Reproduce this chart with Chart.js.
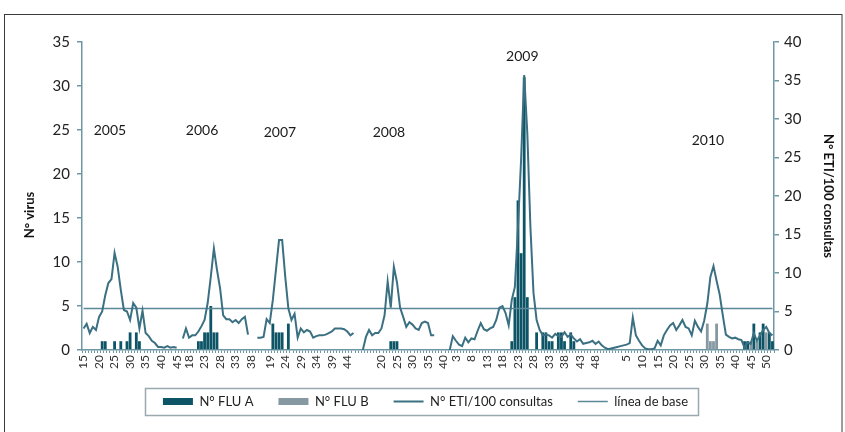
<!DOCTYPE html>
<html>
<head>
<meta charset="utf-8">
<script src="https://cdn.jsdelivr.net/npm/chart.js@4.4.0/dist/chart.umd.min.js"></script>
<style>
  html, body { margin: 0; padding: 0; background: #fff; }
</style>
</head>
<body>
<canvas id="chart" width="845" height="432"></canvas>
<script>
/* Temporadas y semanas que cubre cada una */
const seasons = [2005, 2006, 2007, 2008, 2009, 2010];
const firstWeek = [15, 16, 15, 14, 1, 1];
const lastWeek = [46, 39, 48, 41, 53, 52];

/* Semanas con etiqueta en el eje x */
const ticks2005 = [15, 20, 25, 30, 35, 40, 45];
const ticks2006 = [18, 23, 28, 33, 38];
const ticks2007 = [19, 24, 29, 34, 39, 44];
const ticks2008 = [20, 25, 30, 35, 40];
const ticks2009 = [3, 8, 13, 18, 23, 28, 33, 38, 43, 48];
const ticks2010 = [5, 10, 15, 20, 25, 30, 35, 40, 45, 50];

/* N° ETI/100 consultas (desde la primera semana de la temporada) */
const eti2005 = [2.8, 3.4, 2.2, 3.0, 2.6, 4.3, 5.0, 7.1, 8.7, 9.2, 12.6, 10.8, 7.8, 5.2, 5.0, 3.9,
  6.1, 5.5, 2.8, 5.1, 2.2, 1.8, 1.2, 0.9, 0.4, 0.4, 0.3, 0.5, 0.3, 0.4, 0.3];
const eti2006 = [1.5, 2.8, 1.6, 1.9, 1.9, 2.4, 3.1, 3.9, 6.1, 9.5, 13.2, 10.4, 8.0, 4.5, 4.0, 4.0,
  3.6, 3.9, 3.5, 4.0, 4.3, 2.0];
const eti2007 = [1.6, 1.6, 1.7, 4.0, 3.5, 6.5, 10.4, 14.3, 14.3, 9.5, 5.4, 3.9, 4.7, 1.6, 2.8, 2.3,
  2.6, 2.4, 1.6, 1.8, 1.9, 1.9, 2.0, 2.2, 2.4, 2.8, 2.8, 2.8, 2.7, 2.4, 1.9, 2.2];
const eti2008 = [0, 1.7, 2.6, 1.9, 2.2, 2.2, 2.8, 4.5, 8.9, 5.5, 10.8, 8.8, 5.5, 4.3, 3.0, 3.6,
  3.3, 2.8, 2.6, 3.5, 3.7, 3.5, 1.9, 1.9];
const eti2009 = [0, 1.8, 1.2, 0.7, 0.5, 1.6, 1.0, 1.5, 1.4, 2.5, 3.5, 2.7, 2.5, 2.8, 3.0, 3.9,
  5.5, 5.7, 4.8, 3.2, 6.5, 8.2, 16, 24.7, 35.7, 28.2, 16, 7.4, 3.9, 2.6, 1.9, 2.0,
  1.9, 1.6, 2.1, 1.8, 1.7, 2.3, 1.7, 2.0, 1.5, 1.1, 1.4, 0.8, 0.9, 1.0, 1.2, 0.8,
  1.1, 0.6, 0.3, 0.1, 0.2];
const eti2010 = [0.3, 0.4, 0.5, 0.6, 0.7, 0.9, 4.2, 1.9, 1.2, 0.6, 0.2, 0.1, 0.1, 0.2, 1.2, 0.6,
  1.9, 2.6, 3.2, 3.5, 2.6, 3.2, 3.9, 3.0, 2.8, 1.9, 3.8, 3.0, 2.4, 3.8, 6.0, 9.5,
  10.9, 9.0, 7.2, 4.5, 2.0, 1.7, 1.5, 1.6, 1.4, 1.3, 0.3, 1.0, 0.8, 2.2, 1.2, 1.9,
  2.6, 3.0, 2.2, 1.9];

/* N° FLU A */
const fluA2005 = [0, 0, 0, 0, 0, 0, 1, 1, 0, 0, 1, 0, 1, 0, 1, 2, 0, 2, 1];
const fluA2006 = [0, 0, 0, 0, 0, 1, 1, 2, 2, 5, 2, 2];
const fluA2007 = [0, 0, 0, 0, 0, 3, 2, 2, 2, 0, 3];
const fluA2008 = [0, 0, 0, 0, 0, 0, 0, 0, 0, 1, 1, 1];
const fluA2009 = [0, 0, 0, 0, 0, 0, 0, 0, 0, 0, 0, 0, 0, 0, 0, 0, 0, 0, 0, 0, 1, 6, 17, 11, 31, 6,
  0, 0, 2, 0, 2, 2, 1, 1, 0, 2, 2, 1, 0, 2, 1];
const fluA2010 = [0, 0, 0, 0, 0, 0, 0, 0, 0, 0, 0, 0, 0, 0, 0, 0, 0, 0, 0, 0, 0, 0, 0, 0, 0, 0,
  0, 0, 0, 0, 0, 0, 0, 0, 0, 0, 0, 0, 0, 0, 0, 0, 1, 1, 0, 3, 0, 2, 3, 0, 2, 1];

/* N° FLU B */
const fluB2010 = [0, 0, 0, 0, 0, 0, 0, 0, 0, 0, 0, 0, 0, 0, 0, 0, 0, 0, 0, 0, 0, 0, 0, 0, 0, 0,
  0, 0, 0, 0, 3, 1, 1, 3, 0, 0, 0, 0, 0, 0, 0, 0, 0, 0, 1, 0, 1, 0, 0, 2];

/* línea de base (ETI/100 consultas) */
const baseline = 5.4;

/* Colores */
const colorA = "#0c5466";
const colorB = "#8699a2";
const colorEti = "#3b7082";
const colorBase = "#5a8897";
const axisColor = "#6e97a4";
const font = "Lato, 'Open Sans', sans-serif";

// armamos las categorías semana a semana
const etiBySeason = [eti2005, eti2006, eti2007, eti2008, eti2009, eti2010];
const fluABySeason = [fluA2005, fluA2006, fluA2007, fluA2008, fluA2009, fluA2010];
const fluBBySeason = [[], [], [], [], [], fluB2010];
const ticksBySeason = [ticks2005, ticks2006, ticks2007, ticks2008, ticks2009, ticks2010];

const weeks = [];
const showTick = [];
const eti = [];
const fluA = [];
const fluB = [];
seasons.forEach((year, s) => {
  for (let w = firstWeek[s]; w <= lastWeek[s]; w++) {
    const k = w - firstWeek[s];
    weeks.push(String(w));
    showTick.push(ticksBySeason[s].includes(w));
    eti.push(k < etiBySeason[s].length ? etiBySeason[s][k] : null);
    fluA.push(fluABySeason[s][k] || null);
    fluB.push(fluBBySeason[s][k] || null);
  }
});
const base = weeks.map(() => baseline);

// años sobre cada temporada (posición en índice de semana y valor del eje izquierdo)
const yearLabels = {
  id: "yearLabels",
  afterDatasetsDraw(chart) {
    const pos = [[8.5, 25], [38.2, 25], [63.3, 24.7], [98.4, 24.7], [141.4, 33.3], [201.2, 23.8]];
    const { ctx } = chart;
    ctx.save();
    ctx.font = "14px " + font;
    ctx.fillStyle = "#1a1a1a";
    ctx.textAlign = "center";
    ctx.textBaseline = "middle";
    seasons.forEach((year, s) => {
      ctx.fillText(String(year), chart.scales.x.getPixelForValue(pos[s][0]), chart.scales.y.getPixelForValue(pos[s][1]));
    });

    // título del eje izquierdo, algo más abajo que el centro
    ctx.translate(30, 215);
    ctx.rotate(-Math.PI / 2);
    ctx.font = "bold 13px " + font;
    ctx.fillStyle = "#111";
    ctx.fillText("N° virus", 0, 0);
    ctx.restore();
  },
};

// marco exterior y recuadro de la leyenda
const frames = {
  id: "frames",
  afterDraw(chart) {
    const { ctx } = chart;
    ctx.save();
    ctx.strokeStyle = "#3a3a3a";
    ctx.lineWidth = 1;
    ctx.strokeRect(4.5, 14.5, 837.5, 430);

    const boxes = chart.legend.legendHitBoxes;
    const left = Math.min(...boxes.map((b) => b.left)) - 18;
    const right = Math.max(...boxes.map((b) => b.left + b.width)) + 10;
    const cy = boxes[0].top + boxes[0].height / 2;
    ctx.strokeStyle = "#9aa8b0";
    ctx.lineWidth = 1.5;
    ctx.strokeRect(Math.round(left) + 0.5, Math.round(cy - 13.5) + 0.5, Math.round(right - left), 27);
    ctx.restore();
  },
};

const ctx = document.getElementById("chart").getContext("2d");
new Chart(ctx, {
  type: "bar",
  data: {
    labels: weeks,
    datasets: [
      {
        label: "N° FLU A",
        data: fluA,
        backgroundColor: colorA,
        borderWidth: 0,
        pointStyle: "rect",
        grouped: false,
        barPercentage: 0.9,
        categoryPercentage: 1,
        yAxisID: "y",
        order: 2,
      },
      {
        label: "N° FLU B",
        data: fluB,
        backgroundColor: colorB,
        borderWidth: 0,
        pointStyle: "rect",
        grouped: false,
        barPercentage: 0.9,
        categoryPercentage: 1,
        yAxisID: "y",
        order: 2,
      },
      {
        type: "line",
        label: "N° ETI/100 consultas",
        data: eti,
        borderColor: colorEti,
        backgroundColor: colorEti,
        borderWidth: 2,
        pointRadius: 0,
        pointStyle: "line",
        tension: 0,
        yAxisID: "y1",
        order: 1,
      },
      {
        type: "line",
        label: "línea de base",
        data: base,
        borderColor: colorBase,
        backgroundColor: colorBase,
        borderWidth: 1.5,
        pointRadius: 0,
        pointStyle: "line",
        yAxisID: "y1",
        order: 1,
      },
    ],
  },
  options: {
    responsive: false,
    animation: false,
    devicePixelRatio: 1,
    layout: { padding: { left: 10, right: 4, top: 42, bottom: 14 } },
    plugins: {
      tooltip: { enabled: false },
      legend: {
        position: "bottom",
        labels: {
          font: { family: font, size: 13 },
          color: "#222",
          usePointStyle: true,
          pointStyleWidth: 30,
          boxHeight: 7,
          padding: 25,
          sort: (a, b) => a.datasetIndex - b.datasetIndex,
        },
      },
    },
    scales: {
      x: {
        grid: { drawOnChartArea: false, tickLength: 3, color: axisColor },
        border: { color: axisColor, width: 1.5 },
        ticks: {
          autoSkip: false,
          minRotation: 90,
          maxRotation: 90,
          padding: 2,
          font: { family: font, size: 12 },
          color: "#333",
          callback: (v, i) => (showTick[i] ? weeks[i] : ""),
        },
        afterFit: (s) => { s.height = 20; },
      },
      y: {
        position: "left",
        min: 0,
        max: 35,
        ticks: { stepSize: 5, padding: 7, font: { family: font, size: 15 }, color: "#222" },
        grid: { drawOnChartArea: false, tickLength: 5, color: axisColor, lineWidth: 1.5 },
        border: { color: axisColor, width: 1.5 },
        afterFit: (s) => { s.width = 72; },
      },
      y1: {
        position: "right",
        min: 0,
        max: 40,
        ticks: { stepSize: 5, padding: 5, font: { family: font, size: 15 }, color: "#222" },
        grid: { drawOnChartArea: false, tickLength: 5, color: axisColor, lineWidth: 1.5 },
        border: { color: axisColor, width: 1.5 },
        title: {
          display: true,
          text: "N° ETI/100 consultas",
          padding: { top: 5 },
          font: { family: font, size: 13, weight: "bold" },
          color: "#111",
        },
        afterFit: (s) => { s.width = 67; },
      },
    },
  },
  plugins: [yearLabels, frames],
});
</script>
</body>
</html>
